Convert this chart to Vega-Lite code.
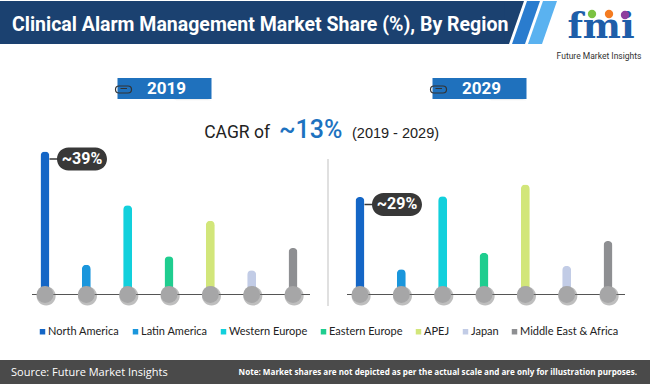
{
  "$schema": "https://vega.github.io/schema/vega-lite/v6.json",
  "width": 650,
  "height": 384,
  "autosize": {"type": "fit", "contains": "padding"},
  "padding": 0,
  "background": "white",
  "config": {"view": {"stroke": null}},
  "datasets": {
    "share": [
      {"year": "2019", "region": "North America", "share": 39.0, "label": "~39%"},
      {"year": "2019", "region": "Latin America", "share": 8.1},
      {"year": "2019", "region": "Western Europe", "share": 24.3},
      {"year": "2019", "region": "Eastern Europe", "share": 10.4},
      {"year": "2019", "region": "APEJ", "share": 20.1},
      {"year": "2019", "region": "Japan", "share": 6.6},
      {"year": "2019", "region": "Middle East & Africa", "share": 12.7},
      {"year": "2029", "region": "North America", "share": 26.6, "label": "~29%"},
      {"year": "2029", "region": "Latin America", "share": 6.9},
      {"year": "2029", "region": "Western Europe", "share": 26.8},
      {"year": "2029", "region": "Eastern Europe", "share": 11.4},
      {"year": "2029", "region": "APEJ", "share": 30.0},
      {"year": "2029", "region": "Japan", "share": 7.8},
      {"year": "2029", "region": "Middle East & Africa", "share": 14.6}
    ]
  },
  "layer": [
    {
      "data": {"name": "share"},
      "mark": {"type": "bar", "width": 9, "cornerRadiusEnd": 4.5},
      "encoding": {
        "x": {"field": "year", "type": "nominal", "axis": null, "scale": {"range": [11.5, 641.5], "paddingInner": 0, "paddingOuter": 0}},
        "xOffset": {"field": "region", "type": "nominal", "scale": {"domain": ["North America", "Latin America", "Western Europe", "Eastern Europe", "APEJ", "Japan", "Middle East & Africa"], "paddingInner": 0, "paddingOuter": 0.31}},
        "y": {"field": "share", "type": "quantitative", "axis": null, "scale": {"domain": [0, 72], "range": [293.5, 0]}},
        "color": {
          "field": "region", "type": "nominal",
          "scale": {
            "domain": ["North America", "Latin America", "Western Europe", "Eastern Europe", "APEJ", "Japan", "Middle East & Africa"],
            "range": ["#1466c6", "#1a96dc", "#12d0dc", "#1fcd8f", "#d2e67a", "#c2cce6", "#8e8f92"]
          },
          "legend": {
            "orient": "none", "legendX": 37, "legendY": 325, "direction": "horizontal", "title": null,
            "symbolType": "square", "symbolSize": 30, "symbolStrokeWidth": 0,
            "labelFont": "Lato", "labelFontSize": 11, "labelColor": "#222222", "labelOffset": 0, "columnPadding": 10, "labelLimit": 300
          }
        }
      }
    },
    {
      "data": {"values": [{}]},
      "mark": {"type": "rect", "color": "#1b4170"},
      "encoding": {"x": {"value": 0}, "x2": {"value": 506}, "y": {"value": 0}, "y2": {"value": 43}}
    },
    {
      "data": {"values": [{}]},
      "mark": {"type": "point", "shape": "M -0.84 -0.734 L -0.2 -0.734 L -0.7 0.7 L -0.84 0.7 Z", "size": 3600, "filled": true, "color": "#1b4170", "opacity": 1, "strokeWidth": 0},
      "encoding": {"x": {"value": 530}, "y": {"value": 22}}
    },
    {
      "data": {"values": [{}]},
      "mark": {"type": "point", "shape": "M -0.1 -0.734 L 0.333 -0.734 L -0.167 0.7 L -0.6 0.7 Z", "size": 3600, "filled": true, "color": "#2a7cce", "opacity": 1, "strokeWidth": 0},
      "encoding": {"x": {"value": 530}, "y": {"value": 22}}
    },
    {
      "data": {"values": [{}]},
      "mark": {"type": "point", "shape": "M 0.433 -0.734 L 0.9 -0.734 L 0.4 0.7 L -0.067 0.7 Z", "size": 3600, "filled": true, "color": "#5ab2f0", "opacity": 1, "strokeWidth": 0},
      "encoding": {"x": {"value": 530}, "y": {"value": 22}}
    },
    {
      "data": {"values": [{"t": "Clinical Alarm Management Market Share (%), By Region"}]},
      "mark": {"type": "text", "align": "left", "baseline": "alphabetic", "font": "Roboto", "fontWeight": "bold", "fontSize": 19.5, "color": "white"},
      "encoding": {"x": {"value": 12}, "y": {"value": 29.5}, "text": {"field": "t"}}
    },
    {
      "data": {"values": [{"t": "fmi"}]},
      "mark": {"type": "text", "align": "center", "baseline": "alphabetic", "font": "DejaVu Serif", "fontWeight": "bold", "fontSize": 36, "color": "#1e5ea9"},
      "encoding": {"x": {"value": 601}, "y": {"value": 37}, "text": {"field": "t"}}
    },
    {
      "data": {"values": [{"c": "g"}]},
      "mark": {"type": "circle", "size": 70, "color": "#7cc242", "opacity": 1},
      "encoding": {"x": {"value": 592}, "y": {"value": 13}}
    },
    {
      "data": {"values": [{"c": "o"}]},
      "mark": {"type": "circle", "size": 70, "color": "#f47b20", "opacity": 1},
      "encoding": {"x": {"value": 609}, "y": {"value": 13}}
    },
    {
      "data": {"values": [{"c": "p"}]},
      "mark": {"type": "circle", "size": 70, "color": "#8e3f9e", "opacity": 1},
      "encoding": {"x": {"value": 625}, "y": {"value": 14}}
    },
    {
      "data": {"values": [{"t": "Future Market Insights"}]},
      "mark": {"type": "text", "align": "center", "baseline": "middle", "font": "Roboto", "fontSize": 8.5, "color": "#333333"},
      "encoding": {"x": {"value": 599}, "y": {"value": 55}, "text": {"field": "t"}}
    },
    {
      "data": {"name": "share"},
      "transform": [{"filter": "datum.region === 'North America'"}],
      "mark": {"type": "point", "shape": "M -0.4 0.19 L 0.9 0.19 L 1.7 0.45 L 0.3 0.45 Z", "size": 2500, "filled": true, "color": "#e3e3e3", "opacity": 0.6, "strokeWidth": 0},
      "encoding": {"x": {"field": "year", "type": "nominal", "axis": null}, "y": {"value": 88}}
    },
    {
      "data": {"name": "share"},
      "transform": [{"filter": "datum.region === 'North America'"}],
      "mark": {"type": "bar", "width": 94, "xOffset": -4.5, "color": "#1f71bd"},
      "encoding": {"x": {"field": "year", "type": "nominal", "axis": null}, "y": {"value": 77}, "y2": {"value": 98}}
    },
    {
      "data": {"name": "share"},
      "transform": [{"filter": "datum.region === 'North America'"}],
      "mark": {"type": "text", "dx": -2.5, "align": "center", "baseline": "middle", "font": "Roboto", "fontWeight": "bold", "fontSize": 17, "color": "white"},
      "encoding": {"x": {"field": "year", "type": "nominal", "axis": null}, "y": {"value": 88}, "text": {"field": "year"}}
    },
    {
      "data": {"name": "share"},
      "transform": [{"filter": "datum.region === 'North America'"}],
      "mark": {"type": "point", "shape": "M -1.0 -0.07 L -0.82 -0.07 A 0.07 0.07 0 0 1 -0.82 0.07 L -1.0 0.07 A 0.07 0.07 0 0 1 -1.0 -0.07 Z M -0.97 -0.02 L -0.84 -0.02", "size": 10000, "filled": false, "color": "#333333", "strokeWidth": 1.2, "opacity": 1},
      "encoding": {"x": {"field": "year", "type": "nominal", "axis": null}, "y": {"value": 88.5}}
    },
    {
      "data": {"values": [{"t": "CAGR of"}]},
      "mark": {"type": "text", "align": "right", "baseline": "alphabetic", "font": "Roboto", "fontSize": 17.5, "color": "#222222"},
      "encoding": {"x": {"value": 270}, "y": {"value": 137}, "text": {"field": "t"}}
    },
    {
      "data": {"values": [{"t": "~13%"}]},
      "mark": {"type": "text", "align": "left", "baseline": "alphabetic", "font": "Roboto", "fontWeight": 500, "fontSize": 25, "color": "#1d72c0"},
      "encoding": {"x": {"value": 279}, "y": {"value": 137}, "text": {"field": "t"}}
    },
    {
      "data": {"values": [{"t": "(2019 - 2029)"}]},
      "mark": {"type": "text", "align": "left", "baseline": "alphabetic", "font": "Liberation Sans", "fontSize": 14.5, "color": "#222222"},
      "encoding": {"x": {"value": 352}, "y": {"value": 137}, "text": {"field": "t"}}
    },
    {
      "data": {"values": [{}]},
      "mark": {"type": "rule", "color": "#e0e0e0", "strokeWidth": 2},
      "encoding": {"x": {"value": 328}, "y": {"value": 158}, "y2": {"value": 305}}
    },
    {
      "data": {"name": "share"},
      "transform": [{"filter": "datum.region === 'North America'"}],
      "mark": {"type": "point", "shape": "M -0.9133 -0.0033 L 0.94 -0.0033 L 0.94 0.0033 L -0.9133 0.0033 Z", "size": 90000, "filled": true, "color": "#555555", "opacity": 1, "strokeWidth": 0},
      "encoding": {"x": {"field": "year", "type": "nominal", "axis": null}, "y": {"datum": 0, "type": "quantitative"}}
    },
    {
      "data": {"name": "share"},
      "mark": {"type": "point", "shape": "M 1.12 0.16 A 1 1 0 1 1 -0.88 0.16 A 1 1 0 1 1 1.12 0.16 Z", "size": 361, "filled": true, "color": "#6f6f6f", "opacity": 0.45, "strokeWidth": 0},
      "encoding": {
        "x": {"field": "year", "type": "nominal", "axis": null},
        "xOffset": {"field": "region", "type": "nominal"},
        "y": {"datum": 0, "type": "quantitative"}
      }
    },
    {
      "data": {"name": "share"},
      "mark": {"type": "circle", "size": 285, "color": "#a6a6a7", "opacity": 1},
      "encoding": {
        "x": {"field": "year", "type": "nominal", "axis": null},
        "xOffset": {"field": "region", "type": "nominal"},
        "y": {"datum": 0, "type": "quantitative"}
      }
    },
    {
      "data": {"name": "share"},
      "transform": [{"filter": "isValid(datum.label)"}],
      "mark": {"type": "point", "shape": "M 0.3672 -0.0625 L 0.7891 -0.0625 A 0.1797 0.1797 0 0 1 0.7891 0.2969 L 0.3672 0.2969 A 0.1797 0.1797 0 0 1 0.3672 -0.0625 Z M 0.0703 0.1055 L 0.1953 0.1055 L 0.1953 0.1289 L 0.0703 0.1289 Z", "size": 16384, "filled": true, "color": "#383838", "opacity": 1, "strokeWidth": 0},
      "encoding": {
        "x": {"field": "year", "type": "nominal", "axis": null},
        "xOffset": {"field": "region", "type": "nominal"},
        "y": {"field": "share", "type": "quantitative"}
      }
    },
    {
      "data": {"name": "share"},
      "transform": [{"filter": "isValid(datum.label)"}],
      "mark": {"type": "text", "dx": 37, "dy": 7.5, "align": "center", "baseline": "middle", "font": "Roboto", "fontWeight": "bold", "fontSize": 16, "color": "white"},
      "encoding": {
        "x": {"field": "year", "type": "nominal", "axis": null},
        "xOffset": {"field": "region", "type": "nominal"},
        "y": {"field": "share", "type": "quantitative"},
        "text": {"field": "label"}
      }
    },
    {
      "data": {"values": [{}]},
      "mark": {"type": "rect", "color": "#4a4a4a"},
      "encoding": {"x": {"value": 0}, "x2": {"value": 650}, "y": {"value": 359}, "y2": {"value": 384}}
    },
    {
      "data": {"values": [{"t": "Source: Future Market Insights"}]},
      "mark": {"type": "text", "align": "left", "baseline": "middle", "font": "Open Sans", "fontSize": 11, "color": "white"},
      "encoding": {"x": {"value": 11}, "y": {"value": 371.5}, "text": {"field": "t"}}
    },
    {
      "data": {"values": [{"t": "Note: Market shares are not depicted as per the actual scale and are only for illustration purposes."}]},
      "mark": {"type": "text", "align": "right", "baseline": "middle", "font": "Open Sans", "fontWeight": "bold", "fontSize": 8.1, "color": "white"},
      "encoding": {"x": {"value": 637}, "y": {"value": 371.5}, "text": {"field": "t"}}
    }
  ]
}
